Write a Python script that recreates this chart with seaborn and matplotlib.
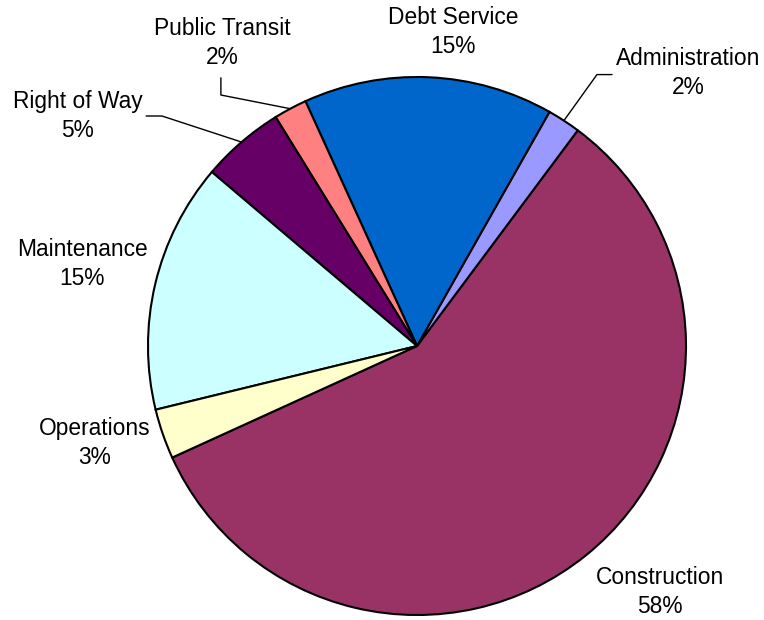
import numpy as np
import matplotlib
matplotlib.use("Agg")
import matplotlib.pyplot as plt
import seaborn as sns

# Budget shares (percent), in drawing order (counter-clockwise)
categories = ["Construction", "Administration", "Debt Service", "Public Transit",
              "Right of Way", "Maintenance", "Operations"]
shares = [58, 2, 15, 2, 5, 15, 3]
colors = ["#993366", "#9999FF", "#0066CC", "#FF8080", "#660066", "#CCFFFF", "#FFFFCC"]

# Label anchor positions (in pie-radius units) and which labels get leader lines
label_pos = {
    "Construction": (0.903, -0.914),
    "Administration": (1.007, 1.015),
    "Debt Service": (0.134, 1.167),
    "Public Transit": (-0.725, 1.126),
    "Right of Way": (-1.262, 0.855),
    "Maintenance": (-1.245, 0.305),
    "Operations": (-1.197, -0.361),
}
# Leader line elbow points (pie-radius units), ending at the slice edge
leader_elbows = {
    "Public Transit": [(-0.729, 0.997), (-0.729, 0.933)],
    "Right of Way": [(-1.007, 0.855), (-0.948, 0.855)],
    "Administration": [(0.725, 1.009), (0.669, 1.009)],
}

sns.set_theme(style="white")
plt.rcParams["font.family"] = ["Liberation Sans", "DejaVu Sans"]

R_PX = 269.0
CX, CY = 417.0, 346.0
W, H = 764, 620

fig = plt.figure(figsize=(W / 100, H / 100), dpi=100)
ax = fig.add_axes([0, 0, 1, 1])

start = 204.5
wedges, _ = ax.pie(
    shares,
    colors=colors,
    startangle=start,
    counterclock=True,
    radius=1.0,
    wedgeprops=dict(edgecolor="black", linewidth=1.5),
)

ax.set_xlim(-CX / R_PX, (W - CX) / R_PX)
ax.set_ylim(-(H - CY) / R_PX, CY / R_PX)
ax.set_aspect("equal")
ax.axis("off")

total = float(sum(shares))
cum = np.cumsum([0] + shares)
for i, (name, val) in enumerate(zip(categories, shares)):
    mid = np.deg2rad(start + (cum[i] + val / 2.0) / total * 360.0)
    edge = (np.cos(mid), np.sin(mid))
    x, y = label_pos[name]
    ax.text(x, y, f"{name}\n{val / total * 100:.0f}%", ha="center", va="center",
            fontsize=16.4, color="black", linespacing=1.3)
    if name in leader_elbows:
        pts = leader_elbows[name] + [edge]
        xs, ys = zip(*pts)
        ax.plot(xs, ys, color="black", linewidth=1.0)

fig.savefig("out.png", dpi=100)
